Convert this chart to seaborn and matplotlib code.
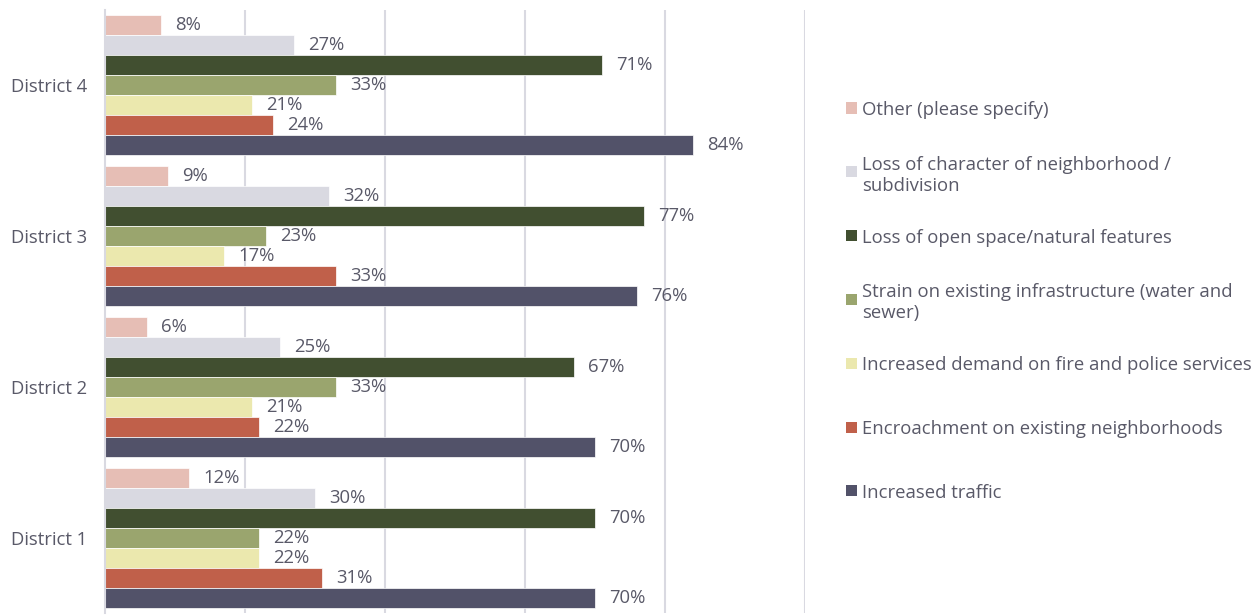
import matplotlib.pyplot as plt
from matplotlib.patches import Rectangle
import pandas as pd
import seaborn as sns

districts = ["District 4", "District 3", "District 2", "District 1"]
concerns = [
    "Other (please specify)",
    "Loss of character of neighborhood /\nsubdivision",
    "Loss of open space/natural features",
    "Strain on existing infrastructure (water and\nsewer)",
    "Increased demand on fire and police services",
    "Encroachment on existing neighborhoods",
    "Increased traffic",
]
colors = ["#E6BEB5", "#D9D9E1", "#414F30", "#9AA56E", "#EBE8AE", "#C0604A", "#525269"]

# percent of respondents, one list per district, in concern order
district_4 = [8, 27, 71, 33, 21, 24, 84]
district_3 = [9, 32, 77, 23, 17, 33, 76]
district_2 = [6, 25, 67, 33, 21, 22, 70]
district_1 = [12, 30, 70, 22, 22, 31, 70]

rows = []
for d, vals in zip(districts, [district_4, district_3, district_2, district_1]):
    for c, v in zip(concerns, vals):
        rows.append({"district": d, "concern": c, "value": v})
df = pd.DataFrame(rows)

sns.set_style("white")
plt.rcParams["font.family"] = ["Open Sans", "DejaVu Sans"]
text_color = "#595968"
grid_color = "#D9D9E1"
fs = 13.3

fig = plt.figure(figsize=(12.6, 6.15), dpi=100)
ax = fig.add_axes([105 / 1260, 2 / 615, 700 / 1260, 603 / 615])

sns.barplot(data=df, x="value", y="district", hue="concern", order=districts,
            hue_order=concerns, palette=colors, orient="h", width=0.93,
            saturation=1, edgecolor="white", linewidth=0.5, legend=False, ax=ax)

for cont in ax.containers:
    ax.bar_label(cont, fmt="{:.0f}%", padding=10, fontsize=fs, color=text_color)

ax.set_xlim(0, 100)
ax.set_xticks([20, 40, 60, 80, 100])
ax.set_xticklabels([])
ax.xaxis.grid(True, color=grid_color, linewidth=1.5)
ax.set_axisbelow(True)
ax.tick_params(axis="x", length=0)
ax.tick_params(axis="y", which="major", length=0, pad=13, labelsize=fs, labelcolor=text_color)
ax.set_yticks([-0.5, 0.5, 1.5, 2.5, 3.5], minor=True)
ax.tick_params(axis="y", which="minor", length=5, width=1.2, color=grid_color)
ax.set_xlabel("")
ax.set_ylabel("")
for s in ["top", "right", "bottom"]:
    ax.spines[s].set_visible(False)
ax.spines["left"].set_color(grid_color)
ax.spines["left"].set_linewidth(1.5)

# legend drawn by hand so markers line up with the first line of wrapped labels
W, H = 1260, 615
for i, (c, col) in enumerate(zip(concerns, colors)):
    yc = 108 + i * 63.8
    fig.add_artist(Rectangle((846 / W, 1 - (yc + 5.5) / H), 11 / W, 11 / H,
                             transform=fig.transFigure, color=col, lw=0))
    fig.text(862 / W, 1 - yc / H, c, fontsize=fs, color=text_color,
             va="center_baseline", ha="left", linespacing=1.2)

plt.savefig("out.png", dpi=100)
